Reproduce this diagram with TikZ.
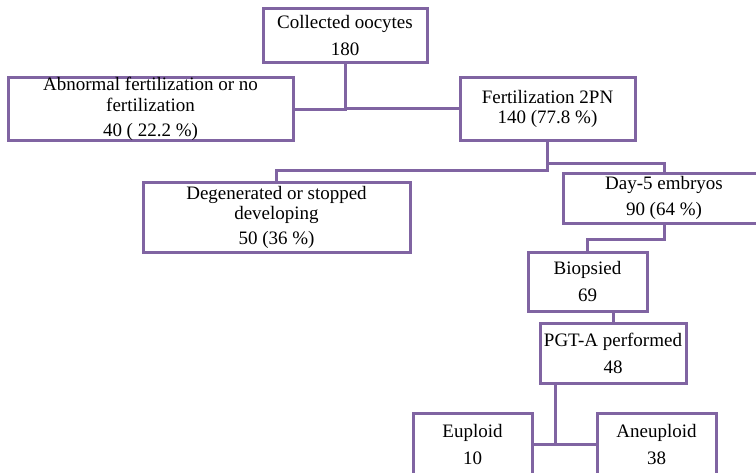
\documentclass[tikz,border=0pt]{standalone}
\usepackage{fontspec}
\setmainfont{Liberation Serif}
\usepackage{xcolor}

\begin{document}
\begin{tikzpicture}[x=1pt,y=-1pt,line cap=rect]
\definecolor{custcol_purple}{RGB}{128, 100, 162}
\tikzset{
  flowbox/.style={draw=custcol_purple, line width=3.0pt, fill=white, inner sep=0pt,
    align=center, font=\fontsize{19pt}{21pt}\selectfont},
  flowline/.style={draw=custcol_purple, line width=3.0pt, line cap=butt}
}
\useasboundingbox (0.0,0.0) rectangle (756.0,472.0);
\clip (0.0,0.0) rectangle (756.0,472.0);
% boxes, top to bottom
\node[flowbox, minimum width=164.0pt, minimum height=54.0pt] (oocytes) at (345.0,35.0) {Collected oocytes\\[6pt]180};
\node[flowbox, minimum width=285.0pt, minimum height=62.0pt] (abnormal) at (150.5,109.0) {Abnormal fertilization or no\\fertilization\\[4pt]40 ( 22.2 \%)};
\node[flowbox, minimum width=175.0pt, minimum height=63.0pt] (fert2pn) at (547.5,108.5) {Fertilization 2PN\\[-1pt]140 (77.8 \%)};
\node[flowbox, minimum width=267.0pt, minimum height=70.0pt] (degen) at (276.5,217.0) {Degenerated or stopped\\[-1pt]developing\\[4pt]50 (36 \%)};
\node[flowbox, minimum width=202.0pt, minimum height=50.0pt] (day5) at (664.0,198.0) {Day-5 embryos\\[5pt]90 (64 \%)};
\node[flowbox, minimum width=119.0pt, minimum height=59.0pt] (biopsied) at (587.5,281.5) {Biopsied\\[6pt]69};
\node[flowbox, minimum width=146.0pt, minimum height=60.0pt] (pgta) at (613.0,353.0) {PGT-A performed\\[6pt]48};
\node[flowbox, minimum width=119.0pt, minimum height=62.0pt] (euploid) at (472.5,444.0) {Euploid\\[6pt]10};
\node[flowbox, minimum width=119.0pt, minimum height=62.0pt] (aneuploid) at (656.5,444.0) {Aneuploid\\[6pt]38};
\coordinate (split) at (555.0,444.0);
% connectors
\draw[flowline] (oocytes.south) |- (abnormal.east);
\draw[flowline] (oocytes.south) |- (fert2pn.west);
\draw[flowline] (fert2pn.south) -- ++(0,29.0) -| (degen.north);
\draw[flowline] (fert2pn.south) -- ++(0,22.0) -| (day5.north);
\draw[flowline] (day5.south) -- ++(0,15.0) -| (biopsied.north);
\draw[flowline] (pgta.north) -- (pgta.north |- biopsied.south);
\draw[flowline] (euploid.east) -- (aneuploid.west);
\draw[flowline] (split) -- (split |- pgta.south);
\end{tikzpicture}
\end{document}
